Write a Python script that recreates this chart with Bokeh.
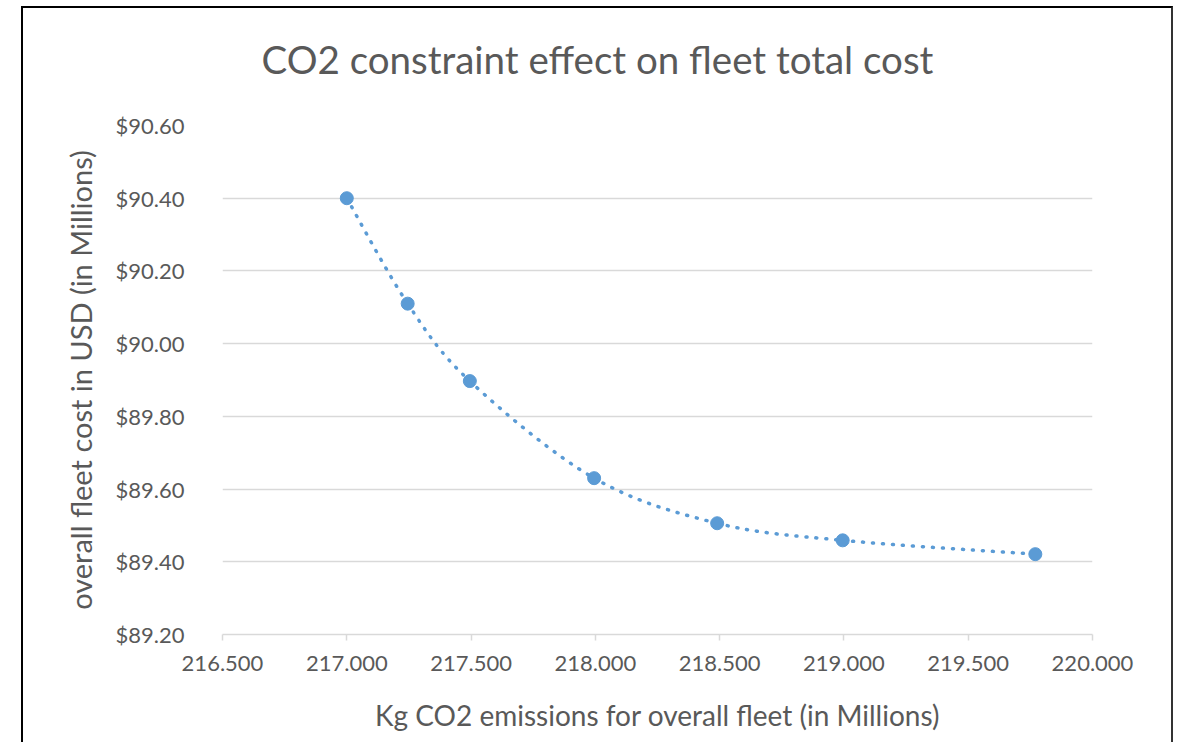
from bokeh.plotting import figure
from bokeh.models import Range1d, FixedTicker, NumeralTickFormatter, LinearAxis
from bokeh.embed import file_html
from bokeh.resources import INLINE
import numpy as np

# Fleet emissions (kg CO2, millions) vs. total fleet cost (USD, millions)
emissions = [217.000, 217.245, 217.495, 217.995, 218.490, 218.995, 219.770]
cost = [90.400, 90.110, 89.897, 89.630, 89.506, 89.459, 89.421]

x_ticks = [216.5, 217.0, 217.5, 218.0, 218.5, 219.0, 219.5, 220.0]
y_ticks = [89.2, 89.4, 89.6, 89.8, 90.0, 90.2, 90.4, 90.6]

TEXT = "#595959"
GRID = "#D9D9D9"
BLUE = "#5B9BD5"
FONT = "Lato"

p = figure(width=1148, height=734, output_backend="svg", toolbar_location=None,
           x_range=Range1d(216.5, 220.0), y_range=Range1d(89.2, 90.6),
           min_border_left=199, min_border_right=83, min_border_top=117,
           min_border_bottom=110)
p.margin = (6, 0, 0, 21)
p.styles = {"border-top": "2px solid black", "border-left": "2px solid black",
            "border-right": "2px solid #333333", "box-sizing": "content-box"}
p.outline_line_color = None
p.background_fill_color = "white"
p.border_fill_color = "white"

# blank spacer axis between the title and the plot area
spacer = LinearAxis(ticker=FixedTicker(ticks=[x_ticks[0]]), axis_line_color=None,
                    major_tick_line_color=None, minor_tick_line_color=None,
                    major_tick_out=39, major_tick_in=0, minor_tick_out=0,
                    major_label_overrides={x_ticks[0]: ""},
                    major_label_standoff=0, major_label_text_font_size="1px")
p.add_layout(spacer, "above")

p.title.text = "CO2 constraint effect on fleet total cost"
p.title.align = "left"
p.title.offset = 39
p.title.text_font = FONT
p.title.text_font_size = "38.5px"
p.title.text_font_style = "normal"
p.title.text_color = TEXT
p.title.standoff = 10

# x axis
xa = p.below[0]
xa.ticker = FixedTicker(ticks=x_ticks)
xa.formatter = NumeralTickFormatter(format="0.000")
xa.axis_line_color = GRID
xa.axis_line_width = 1.5
xa.major_tick_line_color = GRID
xa.major_tick_line_width = 1.5
xa.major_tick_out = 6
xa.major_tick_in = 0
xa.minor_tick_line_color = None
xa.major_label_text_font = FONT
xa.major_label_text_font_size = "22px"
xa.major_label_text_color = TEXT
xa.major_label_standoff = 15
xa.axis_label = "Kg CO2 emissions for overall fleet (in Millions)"
xa.axis_label_text_font = FONT
xa.axis_label_text_font_size = "28px"
xa.axis_label_text_font_style = "normal"
xa.axis_label_text_color = TEXT
xa.axis_label_standoff = 24

# y axis
ya = p.yaxis[0]
ya.ticker = FixedTicker(ticks=y_ticks)
ya.formatter = NumeralTickFormatter(format="$0.00")
ya.axis_line_color = None
ya.major_tick_line_color = None
ya.minor_tick_line_color = None
ya.major_label_text_font = FONT
ya.major_label_text_font_size = "22px"
ya.major_label_text_color = TEXT
ya.major_label_standoff = 32
ya.axis_label = "overall fleet cost in USD (in Millions)"
ya.axis_label_text_font = FONT
ya.axis_label_text_font_size = "29px"
ya.axis_label_text_font_style = "normal"
ya.axis_label_text_color = TEXT
ya.axis_label_standoff = 15

p.xgrid.visible = False
p.ygrid.ticker = FixedTicker(ticks=y_ticks)
p.ygrid.grid_line_color = GRID
p.ygrid.grid_line_width = 1.5

# smoothed connecting curve (Catmull-Rom style cubic Bezier segments)
xs = np.array(emissions)
ys = np.array(cost)
xp = np.concatenate([[xs[0]], xs, [xs[-1]]])
yp = np.concatenate([[ys[0]], ys, [ys[-1]]])
n = len(xs)
x0 = xs[:-1]; y0 = ys[:-1]; x1 = xs[1:]; y1 = ys[1:]
cx0 = x0 + (xp[2:n + 1] - xp[0:n - 1]) / 6.0
cy0 = y0 + (yp[2:n + 1] - yp[0:n - 1]) / 6.0
cx1 = x1 - (xp[3:n + 2] - xp[1:n]) / 6.0
cy1 = y1 - (yp[3:n + 2] - yp[1:n]) / 6.0
p.bezier(x0=x0, y0=y0, x1=x1, y1=y1, cx0=cx0, cy0=cy0, cx1=cx1, cy1=cy1,
         line_color=BLUE, line_width=3.5, line_dash="1 9", line_cap="round")

p.scatter(emissions, cost, size=13, fill_color=BLUE, line_color=BLUE)

open("out.html", "w").write(file_html(p, INLINE))
